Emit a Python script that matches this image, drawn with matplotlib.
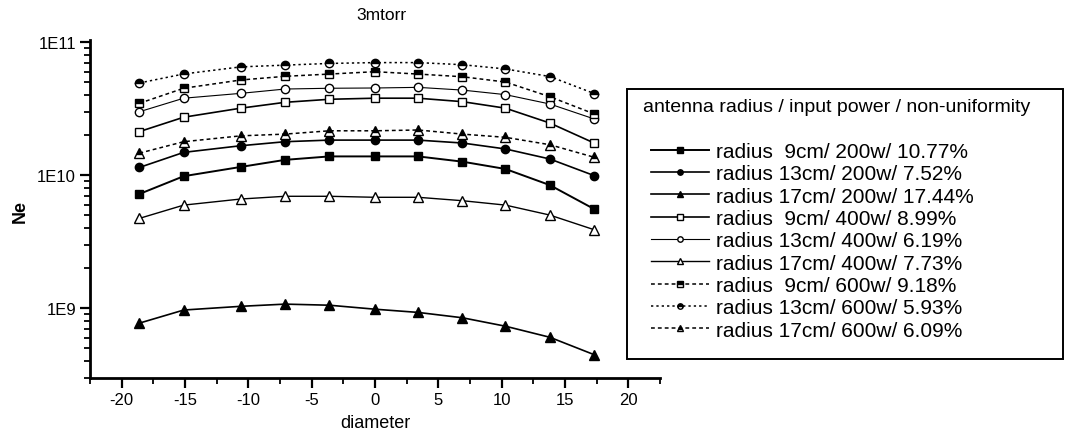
import matplotlib
matplotlib.use("Agg")
import matplotlib.pyplot as plt
from matplotlib.patches import Rectangle
from matplotlib.ticker import LogLocator, FixedLocator, MultipleLocator, FuncFormatter, NullFormatter

plt.rcParams['font.family'] = ['Liberation Sans', 'DejaVu Sans']
plt.rcParams['axes.unicode_minus'] = False

# ---- data ----
diameter = [-18.6, -15.1, -10.6, -7.1, -3.6, 0.0, 3.4, 6.9, 10.3, 13.8, 17.3]

ne_9cm_200w = [7.2e9, 9.8e9, 1.15e10, 1.30e10, 1.38e10, 1.38e10, 1.38e10, 1.26e10, 1.11e10, 8.4e9, 5.55e9]
ne_13cm_200w = [1.14e10, 1.48e10, 1.66e10, 1.78e10, 1.83e10, 1.83e10, 1.83e10, 1.74e10, 1.57e10, 1.32e10, 9.9e9]
ne_17cm_200w = [7.7e8, 9.66e8, 1.03e9, 1.07e9, 1.05e9, 9.8e8, 9.27e8, 8.45e8, 7.3e8, 6.03e8, 4.46e8]
ne_9cm_400w = [2.12e10, 2.72e10, 3.18e10, 3.52e10, 3.71e10, 3.78e10, 3.78e10, 3.56e10, 3.18e10, 2.46e10, 1.74e10]
ne_13cm_400w = [2.99e10, 3.78e10, 4.11e10, 4.43e10, 4.49e10, 4.51e10, 4.56e10, 4.35e10, 4.02e10, 3.42e10, 2.64e10]
ne_17cm_400w = [4.72e9, 5.94e9, 6.6e9, 6.92e9, 6.92e9, 6.8e9, 6.8e9, 6.41e9, 5.94e9, 5.0e9, 3.88e9]
ne_9cm_600w = [3.46e10, 4.49e10, 5.18e10, 5.52e10, 5.74e10, 5.98e10, 5.74e10, 5.48e10, 5.0e10, 3.88e10, 2.88e10]
ne_13cm_600w = [4.92e10, 5.75e10, 6.5e10, 6.7e10, 6.9e10, 7.0e10, 7.0e10, 6.75e10, 6.27e10, 5.5e10, 4.1e10]
ne_17cm_600w = [1.46e10, 1.78e10, 1.97e10, 2.03e10, 2.15e10, 2.15e10, 2.18e10, 2.03e10, 1.92e10, 1.69e10, 1.36e10]

labels = [
    "radius  9cm/ 200w/ 10.77%",
    "radius 13cm/ 200w/ 7.52%",
    "radius 17cm/ 200w/ 17.44%",
    "radius  9cm/ 400w/ 8.99%",
    "radius 13cm/ 400w/ 6.19%",
    "radius 17cm/ 400w/ 7.73%",
    "radius  9cm/ 600w/ 9.18%",
    "radius 13cm/ 600w/ 5.93%",
    "radius 17cm/ 600w/ 6.09%",
]
series = [ne_9cm_200w, ne_13cm_200w, ne_17cm_200w, ne_9cm_400w, ne_13cm_400w,
          ne_17cm_400w, ne_9cm_600w, ne_13cm_600w, ne_17cm_600w]

title = "3mtorr"
legend_title = "antenna radius / input power / non-uniformity"
x_ticks = [-20, -15, -10, -5, 0, 5, 10, 15, 20]
y_ticks = [1e9, 1e10, 1e11]
y_tick_labels = ["1E9", "1E10", "1E11"]

# ---- styles ----
styles = [
    dict(marker='s', ls='-', lw=1.4, mfc='black', fillstyle='full'),
    dict(marker='o', ls='-', lw=1.2, mfc='black', fillstyle='full'),
    dict(marker='^', ls='-', lw=1.2, mfc='black', fillstyle='full'),
    dict(marker='s', ls='-', lw=1.2, mfc='white', fillstyle='full'),
    dict(marker='o', ls='-', lw=0.8, mfc='white', fillstyle='full'),
    dict(marker='^', ls='-', lw=1.0, mfc='white', fillstyle='full'),
    dict(marker='s', ls=(0, (2.5, 2)), lw=1.1, mfc='black', fillstyle='top'),
    dict(marker='o', ls=(0, (1.5, 2)), lw=1.1, mfc='black', fillstyle='top'),
    dict(marker='^', ls=(0, (2.5, 2)), lw=1.1, mfc='black', fillstyle='top'),
]

W, H = 1065, 435
fig = plt.figure(figsize=(W / 100, H / 100), dpi=100)
ax = fig.add_axes([90 / W, 1 - 379 / H, (660 - 90) / W, (379 - 41) / H])

handles = []
for ys, lab, st in zip(series, labels, styles):
    ms = 6.5 if st['marker'] == '^' else 6
    (h,) = ax.plot(diameter, ys, color='black', linestyle=st['ls'], linewidth=st['lw'],
                   marker=st['marker'], markersize=ms, markerfacecolor=st['mfc'],
                   markerfacecoloralt='white', fillstyle=st['fillstyle'],
                   markeredgecolor='black', markeredgewidth=1.0, label=lab)
    handles.append(h)

ax.set_yscale('log')
ax.set_xlim(-22.5, 22.5)
ax.set_ylim(10 ** 8.474, 10 ** 11.015)

for s in ['top', 'right']:
    ax.spines[s].set_visible(False)
for s in ['left', 'bottom']:
    ax.spines[s].set_linewidth(2.0)

ax.xaxis.set_major_locator(FixedLocator(x_ticks))
ax.xaxis.set_minor_locator(MultipleLocator(2.5))
ax.yaxis.set_major_locator(FixedLocator(y_ticks))
ax.yaxis.set_major_formatter(FuncFormatter(lambda v, p: dict(zip(y_ticks, y_tick_labels)).get(v, "")))
ax.yaxis.set_minor_locator(LogLocator(base=10, subs=range(2, 10)))
ax.yaxis.set_minor_formatter(NullFormatter())
ax.tick_params(axis='both', which='major', direction='out', length=7, width=1.6, labelsize=12, pad=3)
ax.tick_params(axis='both', which='minor', direction='out', length=4, width=1.3)

ax.set_xlabel("diameter", fontsize=13, labelpad=5)

fig.text(20 / W, 1 - 212 / H, "Ne", fontsize=13, fontweight='bold', rotation=90,
         ha='center', va='center')
fig.text(381 / W, 1 - 15 / H, title, fontsize=12.5, ha='center', va='center')

# legend box and title
fig.patches.append(Rectangle((627 / W, 1 - 360 / H), (1063 - 627) / W, (360 - 90) / H,
                             transform=fig.transFigure, fill=False, edgecolor='black',
                             linewidth=1.4, figure=fig))
fig.text(643 / W, 1 - 108 / H, legend_title, fontsize=14, ha='left', va='center')

leg = ax.legend(handles=handles, loc='upper left',
                bbox_to_anchor=(651 / W, 1 - 143 / H), bbox_transform=fig.transFigure,
                frameon=False, fontsize=15, borderpad=0, borderaxespad=0,
                handlelength=2.8, handletextpad=0.3, labelspacing=0.16, markerscale=0.65)

fig.savefig("out.png", dpi=100)
